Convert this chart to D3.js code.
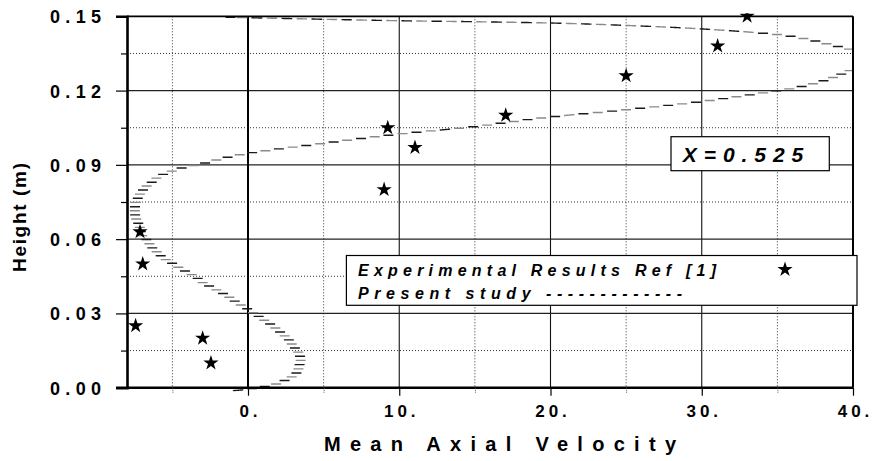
<!DOCTYPE html>
<html>
<head>
<meta charset="utf-8">
<script src="https://cdn.jsdelivr.net/npm/d3@7"></script>
<style>
  html, body { margin: 0; padding: 0; background: #fff; }
  svg { display: block; }
  text { font-family: "Liberation Sans", Arial, sans-serif; font-weight: bold; fill: #000; }
</style>
</head>
<body>
<svg id="chart" width="872" height="461"></svg>
<script>
// Axis ticks and labels
const velTicks = [0, 10, 20, 30, 40];
const velTickLabels = ["0.", "10.", "20.", "30.", "40."];
const velMinorTicks = [-5, 5, 15, 25, 35];
const heightTicks = [0, 0.03, 0.06, 0.09, 0.12, 0.15];
const heightTickLabels = ["0.00", "0.03", "0.06", "0.09", "0.12", "0.15"];
const heightMinorTicks = [0.015, 0.045, 0.075, 0.105, 0.135];

// Experimental results, Ref [1]
const expVelocity = [-7.14, -6.96, -7.43, -3.0, -2.45, 9.0, 9.24, 11.04, 17.04, 25.0, 31.05, 33.0];
const expHeight   = [0.063, 0.050, 0.025, 0.020, 0.010, 0.080, 0.105, 0.097, 0.110, 0.126, 0.138, 0.150];

// Present study: computed mean axial velocity profile
const simVelocity = [
  -1.0, 0.23, 1.0, 1.72, 2.48, 2.98, 3.27, 3.37, 3.44, 3.50, 3.40, 3.27, 3.00, 2.81, 2.58, 2.25,
  1.88, 1.55, 1.12, 0.73, 0.33, -0.13, -0.60, -1.00, -1.45, -1.98, -2.45, -2.98, -3.37, -3.83,
  -4.30, -4.76, -5.16, -5.62, -5.95, -6.28, -6.48, -6.68, -7.00, -7.14, -7.27, -7.40, -7.47,
  -7.47, -7.40, -7.27, -7.14, -6.94, -6.61, -6.28, -5.95, -5.29, -4.50, -3.37, -0.53, 5.09,
  10.05, 15.07, 19.31, 25.06, 30.02, 35.04, 36.50, 38.28, 39.67, 41.2, 39.80, 38.68, 37.62,
  36.50, 35.04, 30.02, 25.06, 20.63, 15.07, 10.05, 3.44, -0.53, -1.30
];
const simHeight = [
  -0.0012, -0.0005, 0.0004, 0.0012, 0.0031, 0.0047, 0.0065, 0.0084, 0.0100, 0.0116, 0.0132, 0.0150,
  0.0166, 0.0185, 0.0201, 0.0218, 0.0237, 0.0254, 0.0270, 0.0287, 0.0303, 0.0322, 0.0338, 0.0355,
  0.0374, 0.0391, 0.0407, 0.0423, 0.0444, 0.0460, 0.0476, 0.0492, 0.0508, 0.0524, 0.0545, 0.0561,
  0.0577, 0.0597, 0.0613, 0.0646, 0.0666, 0.0682, 0.0700, 0.0732, 0.0751, 0.0767, 0.0783, 0.0799,
  0.0820, 0.0833, 0.0852, 0.0869, 0.0886, 0.0900, 0.0941, 0.0988, 0.1025, 0.1055, 0.1089, 0.1123,
  0.1156, 0.1200, 0.1215, 0.1244, 0.1278, 0.1322, 0.1366, 0.1382, 0.1399, 0.1413, 0.1426, 0.1449,
  0.1463, 0.1472, 0.1478, 0.1482, 0.1490, 0.1495, 0.1496
];

const svg = d3.select("#chart");
const x = d3.scaleLinear().domain([-8, 40]).range([127, 853]);
const y = d3.scaleLinear().domain([0, 0.15]).range([387.7, 16.3]);
const [x0, x1] = x.range();
const [y0, y1] = y.range();

const defs = svg.append("defs");
defs.append("clipPath").attr("id", "plotClip")
  .append("rect").attr("x", x0).attr("y", y1 - 4).attr("width", x1 - x0).attr("height", y0 - y1 + 8);
defs.append("clipPath").attr("id", "pointClip")
  .append("rect").attr("x", x0 - 8).attr("y", y1 - 3).attr("width", x1 - x0 + 16).attr("height", y0 - y1 + 10);

// Minor (dotted) grid
const grid = svg.append("g");
grid.selectAll(".vminor").data(velMinorTicks).join("line")
  .attr("x1", d => x(d)).attr("x2", d => x(d)).attr("y1", y1).attr("y2", y0)
  .attr("stroke", "#333").attr("stroke-width", 1).attr("stroke-dasharray", "1,2");
grid.selectAll(".hminor").data(heightMinorTicks).join("line")
  .attr("x1", x0).attr("x2", x1).attr("y1", d => y(d)).attr("y2", d => y(d))
  .attr("stroke", "#333").attr("stroke-width", 1).attr("stroke-dasharray", "1,2");

// Major grid
grid.selectAll(".vmajor").data(velTicks.filter(d => d > 0 && d < 40)).join("line")
  .attr("x1", d => x(d)).attr("x2", d => x(d)).attr("y1", y1).attr("y2", y0)
  .attr("stroke", "#111").attr("stroke-width", 1.1);
grid.selectAll(".hmajor").data(heightTicks.filter(d => d > 0 && d < 0.15)).join("line")
  .attr("x1", x0).attr("x2", x1).attr("y1", d => y(d)).attr("y2", d => y(d))
  .attr("stroke", "#222").attr("stroke-width", 1.1);
grid.append("line")
  .attr("x1", x(0)).attr("x2", x(0)).attr("y1", y1).attr("y2", y0)
  .attr("stroke", "#000").attr("stroke-width", 2);

// Present-study profile, drawn with short horizontal-brush dashes
const profile = simVelocity.map((v, i) => [x(v), y(simHeight[i])]);
const lineGen = d3.line().curve(d3.curveCatmullRom.alpha(0.5));
const guide = svg.append("path").attr("d", lineGen(profile))
  .attr("fill", "none").attr("stroke", "none");
const pathNode = guide.node();
const total = pathNode.getTotalLength();
const samples = [];
for (let s = 0; s <= total; s += 0.4) samples.push(pathNode.getPointAtLength(s));

const PERIOD = 15, DASH = 11, KY = 3.6, BRUSH = 10;
const dashes = [];
let metric = 0, current = null;
samples.forEach((p, i) => {
  if (i > 0) {
    const q = samples[i - 1];
    metric += Math.hypot(p.x - q.x, KY * (p.y - q.y));
  }
  if (metric % PERIOD < DASH) {
    if (!current) current = [];
    current.push([p.x, p.y]);
  } else if (current) {
    dashes.push(current);
    current = null;
  }
});
if (current) dashes.push(current);

const dashPaths = dashes.map(pts => {
  const xs = pts.map(p => p[0]);
  const minX = d3.min(xs), maxX = d3.max(xs);
  if (maxX - minX >= BRUSH) return d3.line()(pts);
  const cx = (minX + maxX) / 2, cy = d3.mean(pts, p => p[1]);
  return `M${cx - BRUSH / 2},${cy}L${cx + BRUSH / 2},${cy}`;
});

svg.append("g").attr("clip-path", "url(#plotClip)")
  .selectAll("path").data(dashPaths).join("path")
  .attr("d", d => d).attr("fill", "none")
  .attr("stroke", (d, i) => i % 2 ? "#8a8a8a" : "#1a1a1a")
  .attr("stroke-width", 1.4);

// Experimental points
const star = d3.symbol().type(d3.symbolStar).size(72);
svg.append("g").attr("clip-path", "url(#pointClip)")
  .selectAll("path").data(expVelocity).join("path")
  .attr("d", star)
  .attr("transform", (d, i) => `translate(${x(d)},${y(expHeight[i])})`)
  .attr("fill", "#000");

// Frame
const frame = svg.append("g").attr("stroke", "#000").attr("fill", "none");
frame.append("line").attr("x1", x0).attr("x2", x1).attr("y1", y1).attr("y2", y1).attr("stroke-width", 1.8);
frame.append("line").attr("x1", x1).attr("x2", x1).attr("y1", y1).attr("y2", y0).attr("stroke-width", 2);

// Left axis
const leftMajor = svg.append("g").attr("transform", `translate(${x0},0)`)
  .call(d3.axisLeft(y).tickValues(heightTicks).tickSize(11).tickPadding(15)
    .tickFormat((d, i) => heightTickLabels[i]));
leftMajor.select(".domain").attr("stroke", "#000").attr("stroke-width", 2.6);
leftMajor.selectAll(".tick line").attr("stroke", "#000").attr("stroke-width", 1.2);
leftMajor.selectAll(".tick text")
  .attr("font-size", 18).attr("font-family", null).attr("dy", "0.36em")
  .attr("textLength", 51).attr("lengthAdjust", "spacing");

const leftMinor = svg.append("g").attr("transform", `translate(${x0},0)`)
  .call(d3.axisLeft(y).tickValues(heightMinorTicks).tickSize(6).tickFormat(""));
leftMinor.select(".domain").remove();
leftMinor.selectAll(".tick line").attr("stroke", "#000").attr("stroke-width", 1.2);

// Bottom axis
const bottomMajor = svg.append("g").attr("transform", `translate(0,${y0})`)
  .call(d3.axisBottom(x).tickValues(velTicks).tickSize(8).tickPadding(9)
    .tickFormat((d, i) => velTickLabels[i]));
bottomMajor.select(".domain").attr("stroke", "#000").attr("stroke-width", 2.6)
  .attr("d", `M${x0 - 11},0H${x1}`);
bottomMajor.selectAll(".tick line").attr("stroke", "#000").attr("stroke-width", 1.2);
bottomMajor.selectAll(".tick text")
  .attr("font-size", 17).attr("font-family", null)
  .attr("letter-spacing", 4).attr("dx", 2);

const bottomMinor = svg.append("g").attr("transform", `translate(0,${y0})`)
  .call(d3.axisBottom(x).tickValues(velMinorTicks).tickSize(5).tickFormat(""));
bottomMinor.select(".domain").remove();
bottomMinor.selectAll(".tick line").attr("stroke", "#555").attr("stroke-width", 1)
  .attr("stroke-dasharray", "1,1");

// Axis titles
svg.append("text")
  .attr("x", 500).attr("y", 451).attr("text-anchor", "middle")
  .attr("font-size", 20).attr("textLength", 352).attr("lengthAdjust", "spacing")
  .text("Mean Axial Velocity");
svg.append("text")
  .attr("transform", "translate(26,217.5) rotate(-90)").attr("text-anchor", "middle")
  .attr("font-size", 19).attr("textLength", 109).attr("lengthAdjust", "spacing")
  .text("Height (m)");

// Station label
const station = svg.append("g");
station.append("rect").attr("x", 671).attr("y", 136.7).attr("width", 158.3).attr("height", 34)
  .attr("fill", "#fff").attr("stroke", "#000").attr("stroke-width", 1.2);
station.append("text").attr("x", 682.7).attr("y", 161.7)
  .attr("font-size", 21).attr("font-style", "italic")
  .attr("textLength", 120.6).attr("lengthAdjust", "spacing")
  .text("X=0.525");

// Legend
const legend = svg.append("g");
legend.append("rect").attr("x", 346.4).attr("y", 255.5).attr("width", 510.6).attr("height", 49.8)
  .attr("fill", "#fff").attr("stroke", "#000").attr("stroke-width", 1.2);
legend.append("text").attr("x", 358).attr("y", 275.5)
  .attr("font-size", 16).attr("font-style", "italic")
  .attr("textLength", 358).attr("lengthAdjust", "spacing")
  .text("Experimental Results Ref [1]");
legend.append("path").attr("d", star).attr("fill", "#000")
  .attr("transform", "translate(785,269.5)");
legend.append("text").attr("x", 358).attr("y", 298.5)
  .attr("font-size", 16).attr("font-style", "italic")
  .attr("textLength", 324).attr("lengthAdjust", "spacing")
  .text("Present study -------------");
</script>
</body>
</html>
